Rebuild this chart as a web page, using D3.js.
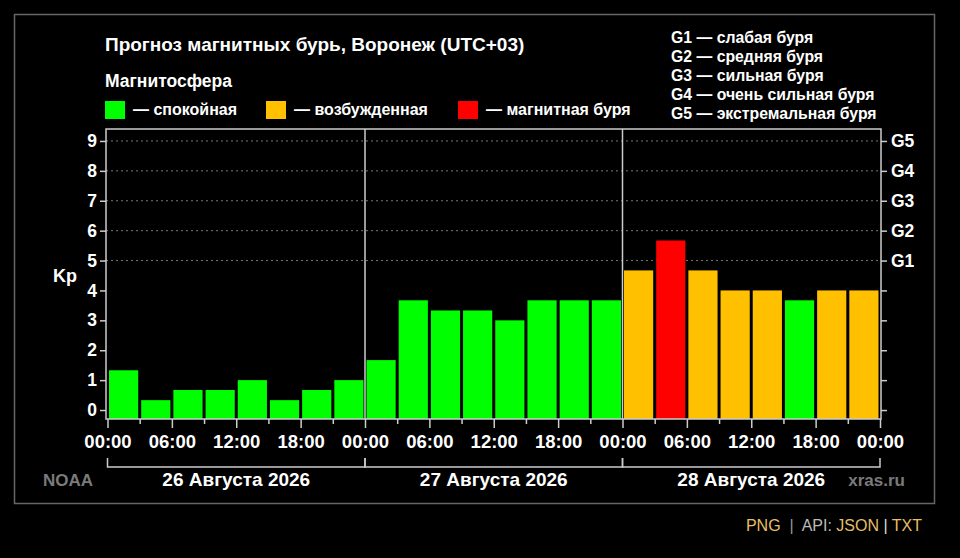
<!DOCTYPE html>
<html lang="ru">
<head>
    <meta charset="utf-8">
    <title>Прогноз магнитных бурь</title>
    <script src="https://cdn.jsdelivr.net/npm/d3@7"></script>
    <style>
        body { margin: 0; background: #000; }
        text { font-family: "Liberation Sans", Arial, sans-serif; }
    </style>
</head>
<body>
<script>

    var w = 960;
    var h = 558;

    // данные: Kp по трёхчасовым интервалам (UTC+03)
    var days = ["26 Августа 2026", "27 Августа 2026", "28 Августа 2026"];
    var kp = [
        1.33, 0.33, 0.67, 0.67, 1.00, 0.33, 0.67, 1.00,
        1.67, 3.67, 3.33, 3.33, 3.00, 3.67, 3.67, 3.67,
        4.67, 5.67, 4.67, 4.00, 4.00, 3.67, 4.00, 4.00
    ];
    var kpTicks = [0, 1, 2, 3, 4, 5, 6, 7, 8, 9];
    var gLabels = {5: "G1", 6: "G2", 7: "G3", 8: "G4", 9: "G5"};
    var legendItems = [
        {label: "— спокойная", color: "#00ff00"},
        {label: "— возбужденная", color: "#ffc000"},
        {label: "— магнитная буря", color: "#ff0000"}
    ];
    var gLegend = [
        "G1 — слабая буря",
        "G2 — средняя буря",
        "G3 — сильная буря",
        "G4 — очень сильная буря",
        "G5 — экстремальная буря"
    ];

    var start = new Date(Date.UTC(2026, 7, 26));
    var end = new Date(Date.UTC(2026, 7, 29));

    var svg = d3.select("body")
        .append("svg")
        .attr("width", w)
        .attr("height", h);

    svg.append("rect")
        .attr("width", w).attr("height", h)
        .attr("fill", "#000");

    // рамка
    svg.append("rect")
        .attr("x", 14.5).attr("y", 14.5)
        .attr("width", 920).attr("height", 489)
        .attr("fill", "none")
        .attr("stroke", "#666")
        .attr("stroke-width", 1.5);

    var x = d3.scaleUtc().domain([start, end]).range([107.5, 880]);
    var y = d3.scaleLinear().domain([-0.3, 9.4]).range([419, 129]);

    function colour(v) {
        if (v >= 5) return "#ff0000";
        if (v >= 4) return "#ffc000";
        return "#00ff00";
    }

    // пунктирная сетка
    svg.selectAll(".grid")
        .data(kpTicks.filter(function(d) { return d >= 5; }))
        .enter().append("line")
        .attr("x1", 106).attr("x2", 881)
        .attr("y1", function(d) { return y(d); })
        .attr("y2", function(d) { return y(d); })
        .attr("stroke", "#777")
        .attr("stroke-dasharray", "2,3");

    // столбики
    svg.selectAll(".bar")
        .data(kp)
        .enter().append("rect")
        .attr("x", function(d, i) { return x(d3.utcHour.offset(start, 3 * i)) + 1.5; })
        .attr("width", function(d, i) {
            return x(d3.utcHour.offset(start, 3 * (i + 1))) - x(d3.utcHour.offset(start, 3 * i)) - 3;
        })
        .attr("y", function(d) { return y(d); })
        .attr("height", function(d) { return y(-0.3) - y(d); })
        .attr("fill", function(d) { return colour(d); });

    // разделители суток
    svg.selectAll(".sep")
        .data([1, 2])
        .enter().append("line")
        .attr("x1", function(d) { return x(d3.utcDay.offset(start, d)); })
        .attr("x2", function(d) { return x(d3.utcDay.offset(start, d)); })
        .attr("y1", 129).attr("y2", 419)
        .attr("stroke", "#ccc")
        .attr("stroke-width", 1.5);

    svg.append("rect")
        .attr("x", 106).attr("y", 129)
        .attr("width", 775).attr("height", 290)
        .attr("fill", "none")
        .attr("stroke", "#ccc")
        .attr("stroke-width", 1.5);

    // оси
    var axisLeft = svg.append("g")
        .attr("transform", "translate(106,0)")
        .call(d3.axisLeft(y).tickValues(kpTicks).tickSize(6).tickPadding(3));

    var axisRight = svg.append("g")
        .attr("transform", "translate(881,0)")
        .call(d3.axisRight(y).tickValues(kpTicks).tickSize(6).tickPadding(4)
            .tickFormat(function(d) { return gLabels[d] || ""; }));

    var axisBottom = svg.append("g")
        .attr("transform", "translate(0,419)")
        .call(d3.axisBottom(x).ticks(d3.utcHour.every(3)).tickSize(9).tickPadding(7)
            .tickFormat(function(d) { return d.getUTCHours() % 6 === 0 ? d3.utcFormat("%H:%M")(d) : ""; }));

    // промежуточные риски короче
    axisBottom.selectAll(".tick")
        .filter(function(d) { return d.getUTCHours() % 6 !== 0; })
        .select("line").attr("y2", 5);

    [axisLeft, axisRight, axisBottom].forEach(function(g) {
        g.select(".domain").remove();
        g.selectAll("line").attr("stroke", "#ccc").attr("stroke-width", 1.5);
        g.selectAll("text")
            .attr("fill", "#fff")
            .style("font-family", "'Liberation Sans', Arial, sans-serif")
            .style("font-weight", "bold")
            .style("font-size", "17.5px");
    });
    axisBottom.selectAll("text").style("font-size", "18.5px");

    svg.append("text")
        .attr("x", 65).attr("y", 282)
        .attr("text-anchor", "middle")
        .attr("fill", "#fff")
        .style("font-weight", "bold").style("font-size", "18px")
        .text("Kp");

    // скобки с датами
    svg.selectAll(".bracket")
        .data(days)
        .enter().append("path")
        .attr("d", function(d, i) {
            var x0 = x(d3.utcDay.offset(start, i)), x1 = x(d3.utcDay.offset(start, i + 1));
            return "M" + x0 + ",458V467H" + x1 + "V458";
        })
        .attr("fill", "none")
        .attr("stroke", "#ccc")
        .attr("stroke-width", 1.5);

    svg.selectAll(".day")
        .data(days)
        .enter().append("text")
        .attr("x", function(d, i) {
            return (x(d3.utcDay.offset(start, i)) + x(d3.utcDay.offset(start, i + 1))) / 2;
        })
        .attr("y", 486)
        .attr("text-anchor", "middle")
        .attr("fill", "#fff")
        .style("font-weight", "bold").style("font-size", "19px")
        .text(function(d) { return d; });

    svg.append("text")
        .attr("x", 43).attr("y", 486)
        .attr("fill", "#7a7a7a")
        .style("font-weight", "bold").style("font-size", "17px")
        .text("NOAA");

    svg.append("text")
        .attr("x", 905).attr("y", 486)
        .attr("text-anchor", "end")
        .attr("fill", "#7a7a7a")
        .style("font-weight", "bold").style("font-size", "17px")
        .text("xras.ru");

    // заголовок и легенда
    svg.append("text")
        .attr("x", 105).attr("y", 51)
        .attr("fill", "#fff")
        .style("font-weight", "bold").style("font-size", "19px")
        .text("Прогноз магнитных бурь, Воронеж (UTC+03)");

    svg.append("text")
        .attr("x", 105).attr("y", 87)
        .attr("fill", "#fff")
        .style("font-weight", "bold").style("font-size", "17.5px")
        .text("Магнитосфера");

    var legendX = [105, 266, 458];
    var leg = svg.selectAll(".leg")
        .data(legendItems)
        .enter().append("g")
        .attr("transform", function(d, i) { return "translate(" + legendX[i] + ",101)"; });
    leg.append("rect")
        .attr("width", 20).attr("height", 18)
        .attr("fill", function(d) { return d.color; });
    leg.append("text")
        .attr("x", 28).attr("y", 14)
        .attr("fill", "#fff")
        .style("font-weight", "bold").style("font-size", "16px")
        .text(function(d) { return d.label; });

    svg.selectAll(".gleg")
        .data(gLegend)
        .enter().append("text")
        .attr("x", 671)
        .attr("y", function(d, i) { return 43 + i * 19; })
        .attr("fill", "#fff")
        .style("font-weight", "bold").style("font-size", "15.8px")
        .text(function(d) { return d; });

    // подвал
    var foot = svg.append("text")
        .attr("x", 922).attr("y", 531)
        .attr("text-anchor", "end")
        .attr("xml:space", "preserve")
        .style("font-size", "16px");
    [["PNG", "#e6bf66"], ["  |  ", "#999"], ["API: ", "#bbb"], ["JSON", "#e6bf66"],
     [" | ", "#ddd"], ["TXT", "#e6bf66"]].forEach(function(p) {
        foot.append("tspan").attr("fill", p[1]).text(p[0]);
    });

</script>
</body>
</html>
